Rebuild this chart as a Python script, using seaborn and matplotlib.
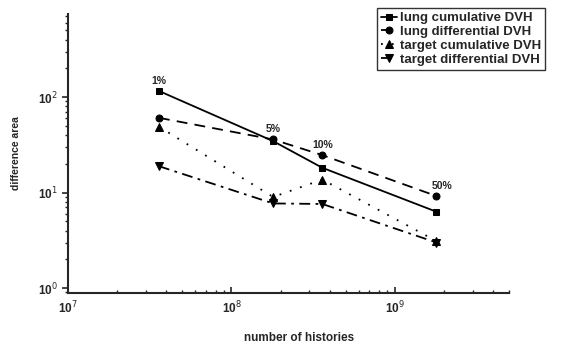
import matplotlib
matplotlib.use("Agg")
import matplotlib.pyplot as plt
import seaborn as sns
import pandas as pd
from matplotlib.ticker import LogLocator, NullFormatter

histories = [3.6e7, 1.8e8, 3.6e8, 1.8e9]
pct_labels = ["1%", "5%", "10%", "50%"]
lung_cum = [116, 34.6, 18.2, 6.3]
lung_diff = [60.7, 36, 24.7, 9.2]
target_cum = [48.9, 9.0, 13.7, 3.1]
target_diff = [18.9, 7.7, 7.6, 3.0]

series_names = ["lung cumulative DVH", "lung differential DVH",
                "target cumulative DVH", "target differential DVH"]
series_vals = [lung_cum, lung_diff, target_cum, target_diff]

sns.set_style("ticks")
plt.rcParams["font.family"] = ["Liberation Sans", "DejaVu Sans"]

fig = plt.figure(figsize=(5.63, 3.45), dpi=100)
ax = fig.add_axes([0.121, 0.151, 0.783, 0.808])

styles = [("-", "s", 4.5), ((0, (6, 4)), "o", 5), ((0, (1, 5)), "^", 5.5), ((0, (6, 3, 1.5, 3)), "v", 5.5)]
for name, vals, (ls, mk, ms) in zip(series_names, series_vals, styles):
    df = pd.DataFrame({"histories": histories, "area": vals})
    sns.lineplot(data=df, x="histories", y="area", ax=ax, color="black",
                 linestyle=ls, marker=mk, markersize=ms, markeredgecolor="black",
                 linewidth=1.3, label=name)

ax.set_xscale("log")
ax.set_yscale("log")
ax.set_xlim(1e7, 5e9)
ax.set_ylim(0.89, 740)

# percentage annotations above topmost point at each x
for i, (x, lab) in enumerate(zip(histories, pct_labels)):
    ymax = max(v[i] for v in series_vals)
    dx = 4 if i == 3 else 0
    ax.annotate(lab, (x, ymax), xytext=(dx, 7.5), textcoords="offset points",
                ha="center", va="center", fontsize=7.5, fontweight="bold")

ax.set_xticks([1e7, 1e8, 1e9])
ax.set_xticklabels(["10$^7$", "10$^8$", "10$^9$"])
ax.set_yticks([1, 10, 100])
ax.set_yticklabels(["10$^0$", "10$^1$", "10$^2$"])
ax.xaxis.set_minor_locator(LogLocator(base=10, subs=range(2, 10), numticks=20))
ax.yaxis.set_minor_locator(LogLocator(base=10, subs=range(2, 10), numticks=20))
ax.xaxis.set_minor_formatter(NullFormatter())
ax.yaxis.set_minor_formatter(NullFormatter())
for lbl in ax.get_xticklabels() + ax.get_yticklabels():
    lbl.set_fontweight("bold")
    lbl.set_fontsize(8.5)
ax.tick_params(axis="x", which="major", direction="in", length=4, width=1.2, pad=5)
ax.tick_params(axis="x", which="minor", direction="in", length=2.5, width=1)
ax.tick_params(axis="y", which="major", direction="out", length=4, width=1.2)
ax.tick_params(axis="y", which="minor", direction="out", length=2.5, width=1)
for s in ("left", "bottom"):
    ax.spines[s].set_linewidth(1.5)
sns.despine(ax=ax)

ax.set_xlabel("number of histories", fontsize=8.5, fontweight="bold", labelpad=11)
ax.xaxis.label.set_x(0.523)
ax.set_ylabel("difference area", fontsize=7.5, fontweight="bold", labelpad=12)

leg = ax.legend(loc="upper right", bbox_to_anchor=(1.082, 1.022), fontsize=9.5,
                frameon=True, fancybox=False, edgecolor="black", handlelength=1.2,
                borderpad=0.3, labelspacing=0.12, handletextpad=0.25, borderaxespad=0)
leg.get_frame().set_linewidth(1.0)
for t in leg.get_texts():
    t.set_fontweight("bold")

fig.savefig("out.png", dpi=100)
